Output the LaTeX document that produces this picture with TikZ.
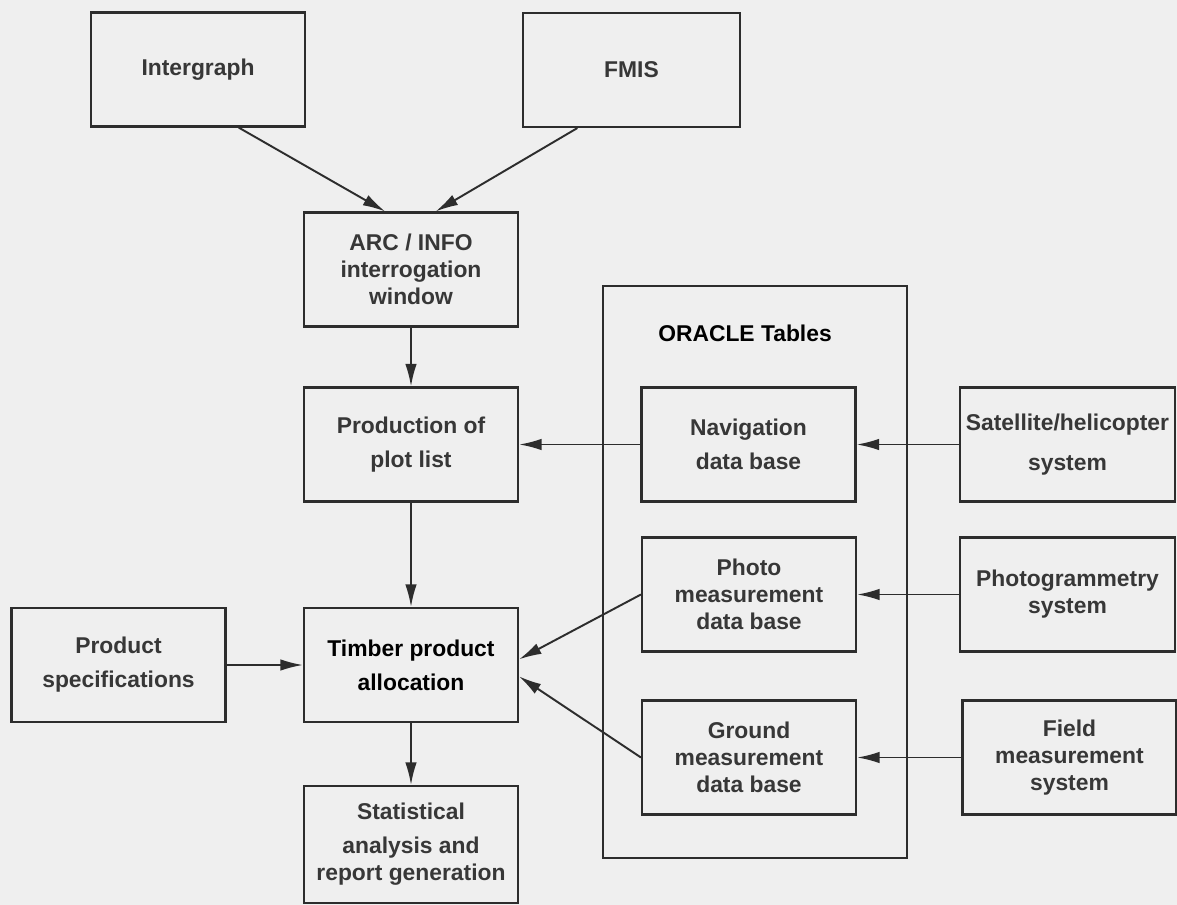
\documentclass[tikz,border=0pt]{standalone}
\usepackage{fontspec}
\setmainfont{Liberation Sans}
\usetikzlibrary{arrows.meta}
\definecolor{grigiocarta}{RGB}{239,239,239}
\definecolor{grigiotratto}{RGB}{45,45,45}
\definecolor{grigiotesto}{RGB}{55,55,55}

\begin{document}
\begin{tikzpicture}[
  font=\fontsize{13}{15.4}\selectfont\bfseries,
  blocco/.style={draw=grigiotratto, line width=1.2pt, minimum width=4.28cm, minimum height=2.28cm, inner sep=1pt, align=center, text=grigiotesto},
  forte/.style={text=black},
  cornice/.style={draw=grigiotratto, line width=1.2pt, inner sep=0pt},
  freccia/.style={draw=grigiotratto, line width=1.1pt, -{Latex[length=4.5mm,width=2.3mm]}}
]

%--------------------------------------------------------------
% Foglio
%--------------------------------------------------------------
\fill[grigiocarta] (0,0) rectangle (23.54,-18.10);
\useasboundingbox (0,0) rectangle (23.54,-18.10);

%--------------------------------------------------------------
% Sorgenti cartografiche e interrogazione
%--------------------------------------------------------------
\node[blocco] (intergraph) at (3.96,-1.39) {Intergraph};
\node[blocco, minimum width=4.34cm] (fmis) at (12.63,-1.40) {FMIS};
\node[blocco] (arcinfo) at (8.22,-5.39) {ARC / INFO\\interrogation\\window};
\node[blocco] (plotlist) at (8.22,-8.89) {Production of\\[4pt]plot list};

%--------------------------------------------------------------
% Allocazione e risultati
%--------------------------------------------------------------
\node[blocco] (specifiche) at (2.37,-13.30) {Product\\[4pt]specifications};
\node[blocco, forte] (timber) at (8.22,-13.30) {Timber product\\[4pt]allocation};
\node[blocco, minimum height=2.34cm] (statistica) at (8.22,-16.89) {Statistical\\[4pt]analysis and\\report generation};

%--------------------------------------------------------------
% Tabelle ORACLE
%--------------------------------------------------------------
\node[cornice, minimum width=6.08cm, minimum height=11.44cm] (oracle) at (15.10,-11.44) {};
\node[forte] (oracletitolo) at (14.90,-6.66) {ORACLE Tables};
\node[blocco] (navigazione) at (14.97,-8.89) {Navigation\\[4pt]data base};
\node[blocco] (foto) at (14.98,-11.89) {Photo\\measurement\\data base};
\node[blocco] (terreno) at (14.98,-15.15) {Ground\\measurement\\data base};

%--------------------------------------------------------------
% Sistemi di rilievo
%--------------------------------------------------------------
\node[blocco, minimum width=4.30cm] (satellite) at (21.35,-8.89) {Satellite/helicopter\\[7pt]system};
\node[blocco, minimum width=4.30cm] (fotogrammetria) at (21.35,-11.89) {Photogrammetry\\system};
\node[blocco] (campo) at (21.39,-15.15) {Field\\measurement\\system};

%--------------------------------------------------------------
% Collegamenti
%--------------------------------------------------------------
\draw[freccia] (intergraph.-55) -- (arcinfo.114);
\draw[freccia] (fmis.-133) -- (arcinfo.67);
\draw[freccia] (arcinfo.south) -- (plotlist.north);
\draw[freccia] (navigazione.west) -- (plotlist.east);
\draw[freccia] (satellite.west) -- (navigazione.east);
\draw[freccia] (fotogrammetria.west) -- (foto.east);
\draw[freccia] (campo.west) -- (terreno.east);
\draw[freccia] (plotlist.south) -- (timber.north);
\draw[freccia] (specifiche.east) -- (timber.west);
\draw[freccia] (foto.west) -- (timber.3);
\draw[freccia] (terreno.west) -- (timber.-6);
\draw[freccia] (timber.south) -- (statistica.north);

\end{tikzpicture}
\end{document}
